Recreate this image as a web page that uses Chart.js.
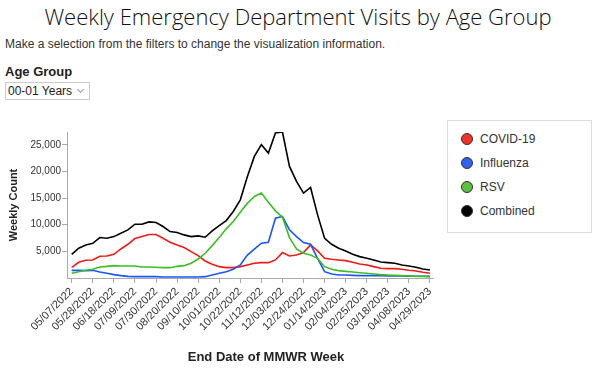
<!DOCTYPE html>
<html>
<head>
<meta charset="utf-8">
<script src="https://cdn.jsdelivr.net/npm/chart.js@4.4.1/dist/chart.umd.min.js"></script>
<style>
  html, body { margin: 0; padding: 0; background: #fff; width: 600px; height: 378px; overflow: hidden; }
  body { position: relative; font-family: "Liberation Sans", Arial, sans-serif; }
  #title { position: absolute; left: 0; top: 1px; width: 596px; text-align: center; font-family: "Open Sans", sans-serif; font-weight: 300; font-size: 22px; line-height: 30px; color: #111; }
  #sub { position: absolute; left: 5px; top: 37px; font-size: 12px; color: #333; }
  #agelbl { position: absolute; left: 5px; top: 64px; font-size: 13px; font-weight: bold; color: #222; }
  #sel { position: absolute; left: 5px; top: 82px; width: 85px; height: 18px; border: 1px solid #ccc; box-sizing: border-box; font-size: 12px; color: #222; line-height: 16px; padding-left: 2px; background: #fff; }
  #sel .chev { position: absolute; right: 6px; top: 4px; width: 4px; height: 4px; border-right: 1px solid #999; border-bottom: 1px solid #999; transform: rotate(45deg); }
  #chartwrap { position: absolute; left: 0; top: 115px; width: 445px; height: 263px; }
  #xtitle { position: absolute; left: 166px; width: 200px; top: 349px; text-align: center; font-size: 13px; font-weight: bold; color: #222; }
  #legend { position: absolute; left: 447px; top: 120px; width: 145px; height: 113px; border: 1px solid #ddd; box-sizing: border-box; }
  .li { position: absolute; left: 13px; height: 16px; font-size: 12px; color: #333; line-height: 16px; }
  .dot { position: absolute; left: 0; top: 2px; width: 12px; height: 12px; border-radius: 50%; box-sizing: border-box; border: 1px solid #333; }
  .li span.t { position: absolute; left: 19px; top: 0; white-space: nowrap; }
</style>
</head>
<body>
<div id="title">Weekly Emergency Department Visits by Age Group</div>
<div id="sub">Make a selection from the filters to change the visualization information.</div>
<div id="agelbl">Age Group</div>
<div id="sel">00-01 Years<div class="chev"></div></div>
<div id="chartwrap"><canvas id="c" width="445" height="263"></canvas></div>
<div id="xtitle">End Date of MMWR Week</div>
<div id="legend"></div>
<script>
const weeks = ["05/07/2022","05/14/2022","05/21/2022","05/28/2022","06/04/2022","06/11/2022","06/18/2022","06/25/2022","07/02/2022","07/09/2022","07/16/2022","07/23/2022","07/30/2022","08/06/2022","08/13/2022","08/20/2022","08/27/2022","09/03/2022","09/10/2022","09/17/2022","09/24/2022","10/01/2022","10/08/2022","10/15/2022","10/22/2022","10/29/2022","11/05/2022","11/12/2022","11/19/2022","11/26/2022","12/03/2022","12/10/2022","12/17/2022","12/24/2022","12/31/2022","01/07/2023","01/14/2023","01/21/2023","01/28/2023","02/04/2023","02/11/2023","02/18/2023","02/25/2023","03/04/2023","03/11/2023","03/18/2023","03/25/2023","04/01/2023","04/08/2023","04/15/2023","04/22/2023","04/29/2023"];

const covid = [2010,2950,3320,3390,4080,4140,4450,5450,6330,7400,7770,8150,8150,7460,6710,6210,5710,4950,4200,3200,2570,2130,1940,1940,2130,2450,2760,2880,2880,3390,4770,4140,4330,4770,6210,5080,3700,3510,3390,3260,2950,2630,2450,2130,1820,1760,1760,1630,1440,1320,1070,880];
const influenza = [1440,1440,1380,1440,1130,880,630,440,310,250,250,250,250,190,190,190,190,190,190,250,560,880,1190,1630,2450,4300,5400,6520,6710,11220,11540,9030,7770,6650,6330,3700,1190,750,560,560,500,440,440,440,440,380,380,380,350,330,320,300];
const rsv = [880,1190,1440,1630,2070,2190,2320,2260,2260,2260,2070,2070,2010,1940,1940,2190,2320,2760,3570,4640,6080,7590,9220,10600,12350,14000,15300,15930,14230,12600,11410,7590,5450,4640,4330,3700,2130,1630,1380,1250,1130,1000,880,750,630,560,500,440,380,310,310,250];
const combined = [4450,5580,6210,6520,7590,7460,7770,8400,9030,10100,10100,10530,10410,9660,8720,8530,8090,7770,7900,7650,8840,9840,10780,12480,14670,19000,22820,25020,23450,27210,27400,20940,18120,15930,16990,11850,7460,6330,5580,5080,4450,4010,3700,3390,3010,2880,2760,2450,2260,2010,1690,1500];

const seriesNames = ["COVID-19","Influenza","RSV","Combined"];
const seriesColors = ["#ee1c14","#1b56f5","#3cbf24","#000000"];
const dotColors = ["#f03325","#2e62f5","#58c03a","#000000"];
const yTicks = [5000,10000,15000,20000,25000];

const seriesData = [covid, influenza, rsv, combined];

const datasets = seriesData.map((arr, k) => ({
  label: seriesNames[k],
  data: arr.map((v, i) => ({x: i, y: v})),
  borderColor: seriesColors[k],
  backgroundColor: seriesColors[k],
  borderWidth: 1.6,
  pointRadius: 0,
  tension: 0,
  fill: false,
  order: 3 - k
}));

// HTML legend
const lg = document.getElementById('legend');
seriesNames.forEach((n, k) => {
  const d = document.createElement('div');
  d.className = 'li';
  d.style.top = (10 + k * 24) + 'px';
  d.innerHTML = '<div class="dot" style="background:' + dotColors[k] + '"></div><span class="t">' + n + '</span>';
  lg.appendChild(d);
});

const axisColor = '#aaaaaa';
new Chart(document.getElementById('c'), {
  type: 'line',
  data: { datasets },
  options: {
    responsive: false,
    animation: false,
    devicePixelRatio: 1,
    layout: { padding: { top: 17, right: 12, left: 0, bottom: 0 } },
    plugins: { legend: { display: false }, tooltip: { enabled: false } },
    scales: {
      x: {
        type: 'linear',
        min: -0.67,
        max: 51.43,
        afterFit: s => { s.height = 100; },
        afterBuildTicks: s => { s.ticks = weeks.map((w, i) => ({value: i})).filter(t => t.value % 3 === 0); },
        grid: { drawOnChartArea: false, drawTicks: true, tickLength: 5, color: axisColor, tickColor: axisColor },
        border: { display: true, color: axisColor, width: 1 },
        ticks: {
          autoSkip: false,
          minRotation: 45,
          maxRotation: 45,
          padding: 2,
          color: '#333',
          font: { family: 'Liberation Sans', size: 11 },
          callback: v => weeks[v]
        },
        title: { display: false }
      },
      y: {
        min: 0,
        max: 27400,
        afterFit: s => { s.width = 67; },
        afterBuildTicks: s => { s.ticks = yTicks.map(v => ({value: v})); },
        grid: { drawOnChartArea: false, drawTicks: true, tickLength: 5, color: axisColor, tickColor: axisColor },
        border: { display: true, color: axisColor, width: 1 },
        ticks: {
          padding: 1,
          color: '#333',
          font: { family: 'Liberation Sans', size: 10 },
          callback: v => v.toLocaleString('en-US')
        },
        title: {
          display: true,
          text: 'Weekly Count',
          color: '#222',
          font: { family: 'Liberation Sans', size: 11, weight: 'bold' },
          padding: { top: 7, bottom: 0 }
        }
      }
    }
  }
});
</script>
</body>
</html>
